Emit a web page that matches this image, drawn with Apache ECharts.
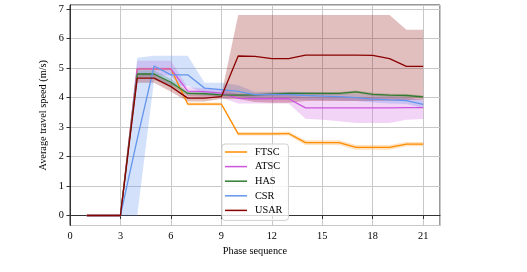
<!DOCTYPE html>
<html>
<head>
<meta charset="utf-8">
<script src="https://cdn.jsdelivr.net/npm/echarts@6/dist/echarts.min.js"></script>
<style>
html,body{margin:0;padding:0;background:#fff;}
#chart{width:527px;height:272px;}
</style>
</head>
<body>
<div id="chart"></div>
<script>
var phases = [1,2,3,4,5,6,7,8,9,10,11,12,13,14,15,16,17,18,19,20,21];
var seriesNames = ['FTSC','ATSC','HAS','CSR','USAR'];
var xTicks = [0,3,6,9,12,15,18,21];
var yTicks = [0,1,2,3,4,5,6,7];

var FTSC    = [0,0,0,4.97,4.97,4.97,3.78,3.78,3.78,2.77,2.77,2.77,2.78,2.47,2.47,2.47,2.31,2.31,2.31,2.42,2.42];
var FTSC_lo = [0,0,0,4.92,4.92,4.92,3.73,3.73,3.73,2.71,2.71,2.71,2.71,2.39,2.39,2.39,2.23,2.23,2.23,2.35,2.35];
var FTSC_hi = [0,0,0,5.02,5.02,5.02,3.83,3.83,3.83,2.83,2.83,2.83,2.85,2.55,2.55,2.55,2.39,2.39,2.39,2.49,2.49];

var ATSC    = [0,0,0,4.97,4.97,4.97,4.22,4.2,4.15,3.97,3.96,3.96,3.96,3.65,3.65,3.65,3.65,3.65,3.65,3.66,3.66];
var ATSC_lo = [0,0,0,4.75,4.75,4.75,4.05,4.02,4.0,3.8,3.8,3.8,3.8,3.28,3.25,3.2,3.14,3.14,3.14,3.25,3.27];
var ATSC_hi = [0,0,0,5.25,5.25,5.25,4.35,4.32,4.28,4.12,4.1,4.1,4.1,4.0,4.0,4.0,4.0,4.0,3.98,3.98,3.95];

var HAS    = [0,0,0,4.8,4.8,4.52,4.14,4.13,4.09,4.08,4.09,4.12,4.14,4.14,4.14,4.14,4.19,4.11,4.08,4.07,4.02];
var HAS_lo = [0,0,0,4.68,4.68,4.4,4.08,4.07,4.04,4.03,4.04,4.07,4.09,4.09,4.09,4.09,4.14,4.06,4.03,4.02,3.97];
var HAS_hi = [0,0,0,4.92,4.92,4.64,4.2,4.19,4.14,4.13,4.14,4.17,4.19,4.19,4.19,4.19,4.24,4.16,4.13,4.12,4.07];

var CSR    = [0,0,0,2.6,5.07,4.77,4.77,4.32,4.27,4.21,4.1,4.1,4.1,4.07,4.05,4.03,4.0,3.95,3.92,3.9,3.77];
var CSR_lo = [0,0,0,0,4.6,4.4,4.4,4.12,4.1,4.05,3.95,3.95,3.95,3.93,3.92,3.9,3.88,3.83,3.8,3.78,3.65];
var CSR_hi = [0,0,0,5.35,5.42,5.42,5.42,4.5,4.5,4.42,4.2,4.2,4.2,4.18,4.16,4.14,4.12,4.08,4.05,4.02,3.9];

var USAR    = [0,0,0,4.66,4.66,4.37,3.98,3.98,4.03,5.41,5.4,5.32,5.32,5.44,5.44,5.44,5.44,5.43,5.32,5.06,5.06];
var USAR_lo = [0,0,0,4.5,4.5,4.2,3.87,3.87,3.95,3.95,3.85,3.82,3.82,3.88,3.88,3.88,3.88,3.88,3.9,3.92,3.93];
var USAR_hi = [0,0,0,4.82,4.82,4.5,4.1,4.1,4.1,6.8,6.8,6.8,6.8,6.8,6.8,6.8,6.8,6.8,6.8,6.3,6.3];

var colors = {FTSC:'#ff8c00', ATSC:'#cc55dd', HAS:'#2e7d32', CSR:'#6495ed', USAR:'#8b0000'};
var bandFill = {FTSC:'rgba(255,140,0,0.25)', ATSC:'rgba(204,85,221,0.25)', HAS:'rgba(46,125,50,0.25)', CSR:'rgba(100,149,237,0.28)', USAR:'rgba(139,0,0,0.25)'};
var means = {FTSC:FTSC, ATSC:ATSC, HAS:HAS, CSR:CSR, USAR:USAR};
var los = {FTSC:FTSC_lo, ATSC:ATSC_lo, HAS:HAS_lo, CSR:CSR_lo, USAR:USAR_lo};
var his = {FTSC:FTSC_hi, ATSC:ATSC_hi, HAS:HAS_hi, CSR:CSR_hi, USAR:USAR_hi};

function pairs(arr){ return phases.map(function(p,i){return [p, arr[i]];}); }

var FONT = 'Liberation Serif';
var series = [];
seriesNames.forEach(function(n){
  var lo = los[n], hi = his[n];
  series.push({
    name: n + '_band', type:'custom', silent:true, z:1, animation:false,
    clip:true,
    data: [[phases[0], lo[0]]],
    encode:{x:0, y:1},
    renderItem: function(params, api){
      var pts = [];
      for (var i = 0; i < phases.length; i++) pts.push(api.coord([phases[i], hi[i]]));
      for (var j = phases.length - 1; j >= 0; j--) pts.push(api.coord([phases[j], lo[j]]));
      return {type:'polygon', shape:{points:pts}, style:{fill:bandFill[n], stroke:null}};
    }
  });
});
seriesNames.forEach(function(n){
  series.push({
    name:n, type:'line', data:pairs(means[n]), symbol:'none',
    lineStyle:{color:colors[n], width:1.3}, itemStyle:{color:colors[n]},
    z:3, animation:false
  });
});

var chart = echarts.init(document.getElementById('chart'), null, {renderer:'canvas'});
chart.setOption({
  animation:false,
  backgroundColor:'#fff',
  textStyle:{fontFamily:FONT},
  grid:{left:70, right:87, top:5, bottom:46.5, show:true, borderColor:'#333', borderWidth:1, backgroundColor:'transparent'},
  legend:{
    data: seriesNames.map(function(n){return {name:n, icon:'rect', itemStyle:{color:colors[n]}};}),
    orient:'vertical', left:222, top:144,
    itemWidth:22, itemHeight:1.5, itemGap:2.6,
    padding:[2,6,4,3],
    backgroundColor:'rgba(255,255,255,0.8)', borderColor:'#d0d0d0', borderWidth:1, borderRadius:3,
    textStyle:{fontFamily:FONT, fontSize:10.3, color:'#000', lineHeight:12, padding:[0,0,0,3]},
    selectedMode:false
  },
  xAxis:{
    type:'value', min:0, max:22, interval:3,
    name:'Phase sequence', nameLocation:'middle', nameGap:19,
    nameTextStyle:{fontFamily:FONT, fontSize:10.3, color:'#000'},
    axisLine:{show:true, lineStyle:{color:'#333', width:1}},
    axisTick:{show:true, length:3.5, lineStyle:{color:'#333'}},
    axisLabel:{fontFamily:FONT, fontSize:10.3, color:'#000', margin:6, showMaxLabel:false,
      formatter:function(v){ return xTicks.indexOf(v) >= 0 ? String(v) : ''; }},
    splitLine:{show:true, lineStyle:{color:'#c8c8c8', width:1}}
  },
  yAxis:{
    type:'value', min:-0.34, max:7.14, splitNumber:7, minInterval:1, maxInterval:1,
    name:'Average travel speed (m/s)', nameLocation:'middle', nameGap:13,
    nameTextStyle:{fontFamily:FONT, fontSize:10.3, color:'#000'},
    axisLine:{show:true, lineStyle:{color:'#333', width:1}},
    axisTick:{show:true, length:3.5, lineStyle:{color:'#333'}},
    axisLabel:{fontFamily:FONT, fontSize:10.3, color:'#000', margin:6, showMinLabel:false, showMaxLabel:false,
      formatter:function(v){ return yTicks.indexOf(v) >= 0 ? String(v) : ''; }},
    splitLine:{show:true, lineStyle:{color:'#c8c8c8', width:1}}
  },
  series: series
});
</script>
</body>
</html>
